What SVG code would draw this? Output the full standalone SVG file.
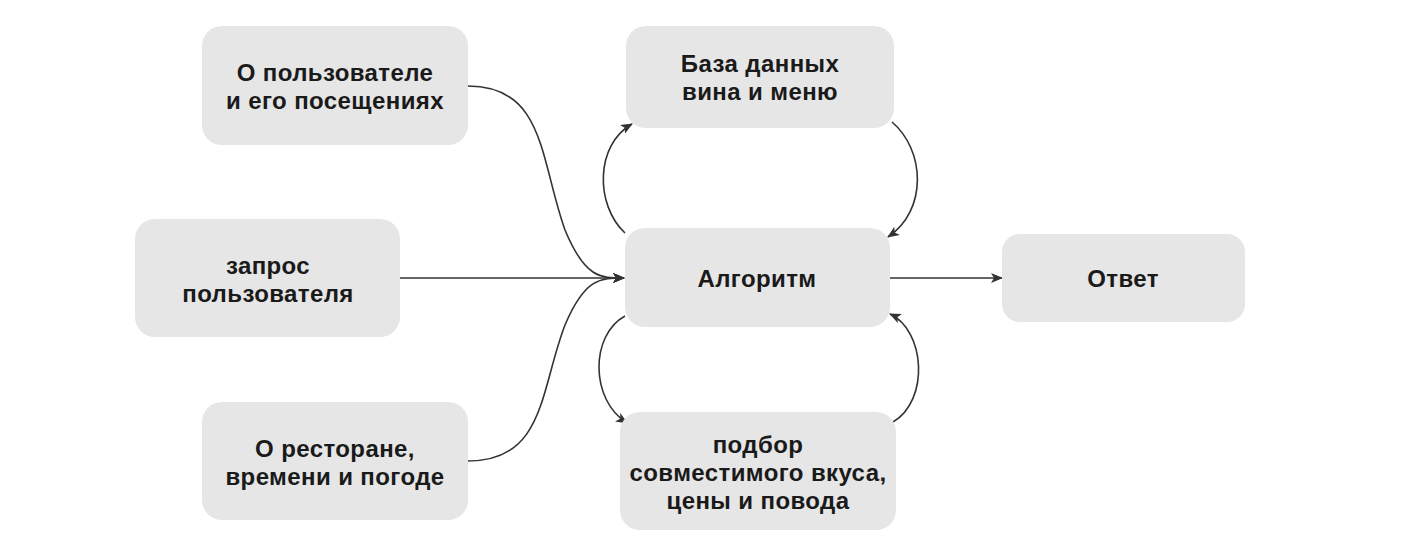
<svg xmlns="http://www.w3.org/2000/svg" width="1404" height="560" viewBox="0 0 1404 560">
<defs>
<style>
.box{fill:#e6e6e6;}
.t{font-family:"Liberation Sans",Arial,sans-serif;font-weight:bold;font-size:24px;letter-spacing:0.4px;fill:#1a1a1a;text-anchor:middle;}
.c{fill:none;stroke:#333;stroke-width:1.6;}
</style>
<marker id="ah" viewBox="0 0 12 10" refX="11" refY="5" markerWidth="12" markerHeight="10" markerUnits="userSpaceOnUse" orient="auto">
<path d="M0,0 L12,5 L0,10 L3,5 Z" fill="#333"/>
</marker>
</defs>
<rect width="1404" height="560" fill="#fff"/>
<g id="connectors">
<path class="c" marker-end="url(#ah)" d="M468,86 C545,86 540,160 565,230 C585,278 600,278 624,278"/>
<path class="c" marker-end="url(#ah)" d="M400,278 L624,278"/>
<path class="c" marker-end="url(#ah)" d="M468,461 C545,461 540,390 565,325 C585,278 600,278 624,278"/>
<path class="c" marker-end="url(#ah)" d="M890,278 L1002,278"/>
<path class="c" marker-end="url(#ah)" d="M625,233 C595,205 595,145 632,124"/>
<path class="c" marker-end="url(#ah)" d="M892,122 C925,150 928,210 888,237"/>
<path class="c" marker-end="url(#ah)" d="M625,316 C590,335 590,400 627,423"/>
<path class="c" marker-end="url(#ah)" d="M893,422 C930,400 925,330 890,314"/>
</g>
<g id="n1"><rect class="box" x="202" y="26" width="266" height="119" rx="20"/>
<text class="t" x="335" y="81">О пользователе</text><text class="t" x="335" y="109">и его посещениях</text></g>
<g id="n2"><rect class="box" x="135" y="219" width="265" height="118" rx="20"/>
<text class="t" x="268" y="274">запрос</text><text class="t" x="268" y="302">пользователя</text></g>
<g id="n3"><rect class="box" x="202" y="402" width="266" height="118" rx="20"/>
<text class="t" x="335" y="457">О ресторане,</text><text class="t" x="335" y="485">времени и погоде</text></g>
<g id="db"><rect class="box" x="626" y="26" width="268" height="102" rx="20"/>
<text class="t" x="760" y="72">База данных</text><text class="t" x="760" y="100">вина и меню</text></g>
<g id="alg"><rect class="box" x="625" y="228" width="265" height="99" rx="20"/>
<text class="t" x="757" y="287">Алгоритм</text></g>
<g id="pod"><rect class="box" x="620" y="412" width="276" height="118" rx="20"/>
<text class="t" x="758" y="453">подбор</text><text class="t" x="758" y="481">совместимого вкуса,</text><text class="t" x="758" y="509">цены и повода</text></g>
<g id="otvet"><rect class="box" x="1002" y="234" width="243" height="88" rx="18"/>
<text class="t" x="1123" y="287">Ответ</text></g>
</svg>
